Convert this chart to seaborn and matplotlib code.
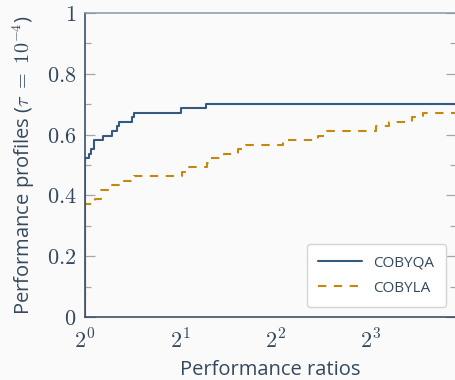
import numpy as np
import pandas as pd
import matplotlib
matplotlib.use('Agg')
import matplotlib.pyplot as plt
import seaborn as sns

# performance profile
cobyqa_ratio = [1.0, 1.0, 1.03, 1.045, 1.068, 1.137, 1.22, 1.259, 1.28, 1.404, 1.431, 2.006, 2.404, 15.0]
cobyqa_value = [0.0, 0.522, 0.537, 0.552, 0.582, 0.597, 0.612, 0.627, 0.642, 0.657, 0.672, 0.687, 0.701, 0.701]

cobyla_ratio = [1.0, 1.0, 1.075, 1.12, 1.214, 1.318, 1.43, 2.02, 2.105, 2.42, 2.49, 2.74, 3.05, 3.22,
                4.23, 5.46, 5.83, 8.30, 9.15, 10.76, 11.66, 15.0]
cobyla_value = [0.0, 0.373, 0.388, 0.418, 0.433, 0.448, 0.463, 0.478, 0.493, 0.507, 0.522, 0.537, 0.552, 0.567,
                0.582, 0.597, 0.612, 0.627, 0.642, 0.657, 0.672, 0.672]

xticks = [1, 2, 4, 8]
xtick_labels = ['$2^{0}$', '$2^{1}$', '$2^{2}$', '$2^{3}$']
yticks = [0, 0.2, 0.4, 0.6, 0.8, 1]
ytick_labels = ['$0$', '$0.2$', '$0.4$', '$0.6$', '$0.8$', '$1$']

sns.set_theme(style='white')
plt.rcParams['font.family'] = ['Open Sans', 'DejaVu Sans']
plt.rcParams['mathtext.fontset'] = 'cm'

bg = '#fafafa'
txt = '#34495e'
spine = '#2c4058'
tickc = '#a6a6a6'

fig = plt.figure(figsize=(4.56, 3.8), dpi=100, facecolor=bg)
ax = fig.add_axes([85 / 456, 1 - 317 / 380, 1 - 85 / 456, 304 / 380])
ax.set_facecolor(bg)

df_qa = pd.DataFrame({'ratio': cobyqa_ratio, 'value': cobyqa_value})
df_la = pd.DataFrame({'ratio': cobyla_ratio, 'value': cobyla_value})

sns.lineplot(data=df_qa, x='ratio', y='value', ax=ax, sort=False, estimator=None, drawstyle='steps-post',
             color='#355a80', lw=1.5, label='COBYQA', zorder=3)
sns.lineplot(data=df_la, x='ratio', y='value', ax=ax, sort=False, estimator=None, drawstyle='steps-post',
             color='#c4880c', lw=1.5, linestyle=(0, (4, 3.6)), label='COBYLA', zorder=2)

ax.set_xscale('log', base=2)
ax.set_xlim(1, 2 ** 3.893)
ax.set_ylim(0, 1)
ax.set_xticks(xticks)
ax.set_xticklabels(xtick_labels)
ax.set_yticks(yticks)
ax.set_yticklabels(ytick_labels)
ax.set_yticks([0.1, 0.3, 0.5, 0.7, 0.9], minor=True)
ax.xaxis.set_minor_locator(matplotlib.ticker.NullLocator())

ax.tick_params(axis='both', which='major', direction='in', length=7, width=0.9, color=tickc,
               labelsize=16, labelcolor=txt)
ax.tick_params(axis='x', which='major', pad=9, top=False)
ax.tick_params(axis='y', which='both', right=True, left=True)
ax.tick_params(axis='y', which='major', pad=6)
ax.tick_params(axis='y', which='minor', direction='in', length=4.5, width=0.9, color=tickc)

for s in ['left', 'bottom']:
    ax.spines[s].set_color(spine)
    ax.spines[s].set_linewidth(1.1)
ax.spines['top'].set_color('#8a98a6')
ax.spines['top'].set_linewidth(1.1)
ax.spines['right'].set_visible(False)

ax.set_xlabel('Performance ratios', fontsize=14.5, color=txt, labelpad=5)
ax.set_ylabel(r'Performance profiles ($\tau\ =\ 10^{-4}$)', fontsize=14.5, color=txt, labelpad=7)

leg = ax.legend(loc='lower right', bbox_to_anchor=(0.972, 0.033), borderaxespad=0, fontsize=11,
                handlelength=2.9, handletextpad=0.7, frameon=True, fancybox=True, borderpad=0.75,
                labelspacing=0.65)
leg.get_frame().set_edgecolor('#d4d4d4')
leg.get_frame().set_facecolor('white')
leg.get_frame().set_alpha(1)
leg.get_frame().set_linewidth(1.0)
for t in leg.get_texts():
    t.set_color(txt)

fig.savefig('out.png', dpi=100, facecolor=bg)
